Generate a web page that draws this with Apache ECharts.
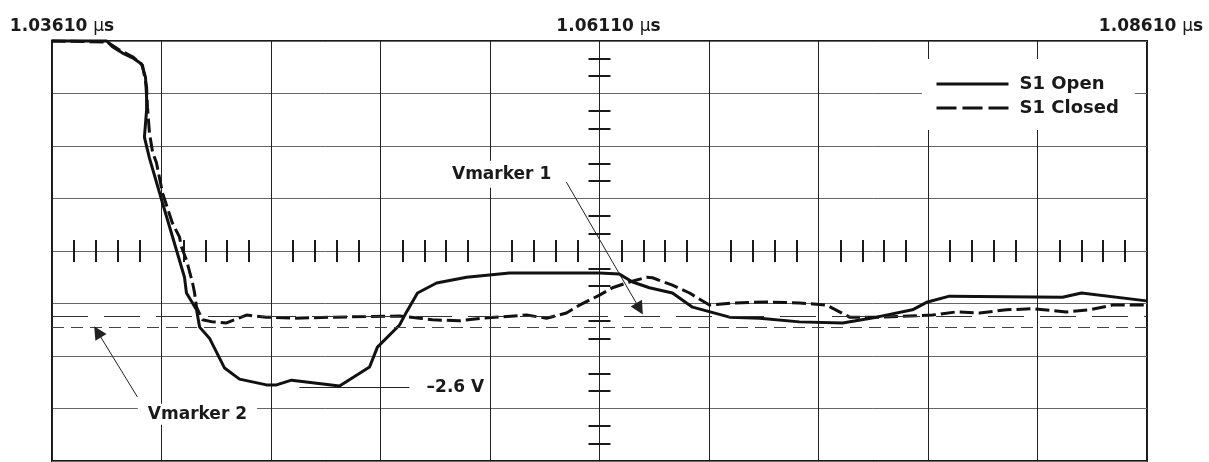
<!DOCTYPE html>
<html><head><meta charset="utf-8">
<script src="https://cdn.jsdelivr.net/npm/echarts@6/dist/echarts.min.js"></script>
<style>html,body{margin:0;padding:0;background:#fff}#c{width:1209px;height:462px}</style>
</head><body><div id="c"></div>
<script>
// Time in ns relative to 1.06110 µs; voltage in V (1 V/div)
const timeTicks = [-25, 0, 25];
const timeLabels = ['1.03610', '1.06110', '1.08610'];
const seriesNames = ['S1 Open', 'S1 Closed'];

const s1Open = [
  [-25.02, 4.0], [-22.5, 4.0], [-22.24, 3.89], [-21.78, 3.77], [-21.32, 3.68], [-20.91, 3.56],
  [-20.73, 3.31], [-20.68, 2.93], [-20.68, 2.69], [-20.78, 2.17], [-20.55, 1.77], [-19.95, 0.91],
  [-18.95, -0.50], [-18.86, -0.80], [-18.40, -1.12], [-18.26, -1.45], [-17.81, -1.66], [-17.12, -2.23],
  [-16.44, -2.44], [-15.21, -2.55], [-14.75, -2.55], [-14.06, -2.46], [-11.87, -2.57], [-10.50, -2.21],
  [-10.14, -1.83], [-9.13, -1.41], [-8.81, -1.16], [-8.31, -0.80], [-7.44, -0.61], [-6.07, -0.50],
  [-4.11, -0.42], [0.0, -0.42], [0.91, -0.44], [1.51, -0.59], [2.28, -0.70], [3.33, -0.80],
  [4.25, -1.07], [5.94, -1.26], [7.31, -1.28], [9.13, -1.35], [11.10, -1.37], [12.65, -1.26],
  [14.29, -1.12], [14.98, -0.97], [15.98, -0.86], [21.14, -0.88], [22.01, -0.80], [24.98, -0.95]
];
const s1Closed = [
  [-25.02, 4.0], [-22.47, 3.98], [-21.92, 3.83], [-21.32, 3.70], [-20.87, 3.54], [-20.68, 3.12],
  [-20.64, 2.74], [-20.55, 2.25], [-20.41, 1.89], [-20.23, 1.68], [-19.95, 1.10], [-19.50, 0.53],
  [-19.18, 0.27], [-19.09, 0.08], [-18.86, -0.17], [-18.58, -0.61], [-18.49, -0.80], [-18.40, -1.07],
  [-18.13, -1.31], [-17.67, -1.35], [-17.03, -1.37], [-16.12, -1.22], [-15.21, -1.26], [-14.02, -1.28],
  [-12.19, -1.26], [-9.13, -1.24], [-8.22, -1.28], [-7.63, -1.31], [-6.39, -1.33], [-5.34, -1.28],
  [-3.33, -1.22], [-2.42, -1.28], [-1.51, -1.18], [-0.91, -1.03], [0.0, -0.84], [0.59, -0.70],
  [1.37, -0.59], [2.15, -0.50], [2.42, -0.51], [3.33, -0.65], [4.11, -0.80], [5.02, -1.03],
  [6.07, -0.99], [7.63, -0.97], [9.13, -0.99], [10.37, -1.03], [11.42, -1.26], [12.79, -1.26],
  [15.21, -1.22], [16.30, -1.16], [17.35, -1.18], [18.58, -1.12], [19.77, -1.10], [21.32, -1.16],
  [22.37, -1.12], [23.42, -1.03], [24.98, -1.03]
];

// Voltage markers (V)
const vmarkerLevels = [-1.24, -1.45];
const vmarkerNames = ['Vmarker 1', 'Vmarker 2'];
const vmarkerLabelPos = [[-4.47, 1.46], [-18.36, -3.11]];
const vmarkerArrowFrom = [[-1.51, 1.31], [-21.10, -2.78]];
const vmarkerArrowTo = [[1.83, -1.10], [-22.92, -1.54]];
// Minimum level annotation
const minLevel = -2.6;
const minLevelText = '\u20132.6 V';
const minLevelLine = [-13.70, -8.68];
const minLevelTextX = -6.58;

const FONT = 'DejaVu Sans';
const INK = '#1a1a1a';

const chart = echarts.init(document.getElementById('c'), null, {renderer: 'canvas'});

const helperX = (pos) => ({
  type: 'value', min: -25, max: 25, interval: 5, position: pos,
  axisLine: {show: false, onZero: true, onZeroAxisIndex: 0},
  axisTick: {show: false}, axisLabel: {show: false}, splitLine: {show: false},
  minorTick: {show: true, splitNumber: 5, length: 11, lineStyle: {color: INK, width: 2}}
});
const helperY = (pos) => ({
  type: 'value', min: -4, max: 4, interval: 1, position: pos,
  axisLine: {show: false, onZero: true, onZeroAxisIndex: 0},
  axisTick: {show: false}, axisLabel: {show: false}, splitLine: {show: false},
  minorTick: {show: true, splitNumber: 3, length: 11, lineStyle: {color: INK, width: 2}}
});

const pads = [20, 18, 8];
const rich = {u: {fontFamily: FONT, fontWeight: 'normal', fontSize: 17, color: INK},
              s: {fontFamily: FONT, fontWeight: 'bold', fontSize: 17, color: INK}};
pads.forEach((p, i) => { rich['p' + i] = {fontFamily: FONT, fontWeight: 'bold', fontSize: 17, color: INK, padding: [0, 0, 0, p]}; });

const option = {
  animation: false,
  backgroundColor: '#fff',
  grid: {left: 52, right: 62, top: 41, bottom: 1, show: true, borderColor: INK, borderWidth: 2, backgroundColor: 'transparent'},
  legend: {
    data: [
      {name: seriesNames[0], lineStyle: {width: 3, type: 'solid', color: '#111'}},
      {name: seriesNames[1], lineStyle: {width: 3, type: [20, 6], color: '#111'}}
    ],
    orient: 'vertical', left: 922, top: 59, padding: [16, 16, 13, 13],
    itemWidth: 72, itemHeight: 14, itemGap: 6,
    itemStyle: {opacity: 0, borderWidth: 0},
    backgroundColor: '#fff',
    textStyle: {fontFamily: FONT, fontWeight: 'bold', fontSize: 18, color: INK, padding: [0, 0, 0, 6]},
    selectedMode: false
  },
  xAxis: [
    {
      type: 'value', min: -25, max: 25, interval: 5, position: 'top',
      axisLine: {show: false, onZero: false}, axisTick: {show: false},
      splitLine: {show: true, lineStyle: {color: '#222', width: 1}},
      axisLabel: {
        margin: 6, rich: rich,
        formatter: (v) => {
          const i = timeTicks.findIndex(t => Math.abs(t - v) < 1e-6);
          if (i < 0) return '';
          return '{p' + i + '|' + timeLabels[i] + ' }{u|\u00b5}{s|s}';
        }
      }
    },
    helperX('bottom'), helperX('top')
  ],
  yAxis: [
    {
      type: 'value', min: -4, max: 4, interval: 1, position: 'left',
      axisLine: {show: false, onZero: false}, axisTick: {show: false}, axisLabel: {show: false},
      splitLine: {show: true, lineStyle: {color: '#666', width: 1}}
    },
    helperY('left'), helperY('right')
  ],
  series: [
    {
      name: seriesNames[0], type: 'line', data: s1Open, symbol: 'none', clip: false, z: 3,
      lineStyle: {color: '#111', width: 3, type: 'solid'}, itemStyle: {color: '#111'}
    },
    {
      name: seriesNames[1], type: 'line', data: s1Closed, symbol: 'none', clip: false, z: 3,
      lineStyle: {color: '#111', width: 3, type: [14, 5]}, itemStyle: {color: '#111'}
    },
    {
      name: 'annotations', type: 'line', data: [], symbol: 'none', z: 2,
      markLine: {
        silent: true, symbol: ['none', 'none'], label: {show: false},
        data: [
          {yAxis: vmarkerLevels[0], lineStyle: {color: '#333', width: 1, type: [36, 16]}},
          {yAxis: vmarkerLevels[1], lineStyle: {color: '#444', width: 1, type: [12, 7]}},
          [{coord: [minLevelLine[0], minLevel], lineStyle: {color: '#222', width: 1, type: 'solid'}},
           {coord: [minLevelLine[1], minLevel]}],
          [{coord: vmarkerArrowFrom[0], symbol: 'none', lineStyle: {color: '#222', width: 1, type: 'solid'}},
           {coord: vmarkerArrowTo[0], symbol: 'triangle', symbolSize: 13}],
          [{coord: vmarkerArrowFrom[1], symbol: 'none', lineStyle: {color: '#222', width: 1, type: 'solid'}},
           {coord: vmarkerArrowTo[1], symbol: 'triangle', symbolSize: 13}]
        ],
        itemStyle: {color: '#222'}
      },
      markPoint: {
        silent: true, symbol: 'rect', symbolSize: 1,
        itemStyle: {color: 'rgba(0,0,0,0)'},
        label: {show: true, position: 'inside', formatter: '{b}', fontFamily: FONT, fontWeight: 'bold', fontSize: 17, color: INK},
        data: [
          {name: vmarkerNames[0], coord: vmarkerLabelPos[0], label: {backgroundColor: '#fff', padding: [5, 10]}},
          {name: vmarkerNames[1], coord: vmarkerLabelPos[1], label: {backgroundColor: '#fff', padding: [2, 10]}},
          {name: minLevelText, coord: [minLevelTextX, minLevel]}
        ]
      }
    }
  ]
};
chart.setOption(option);
</script></body></html>
